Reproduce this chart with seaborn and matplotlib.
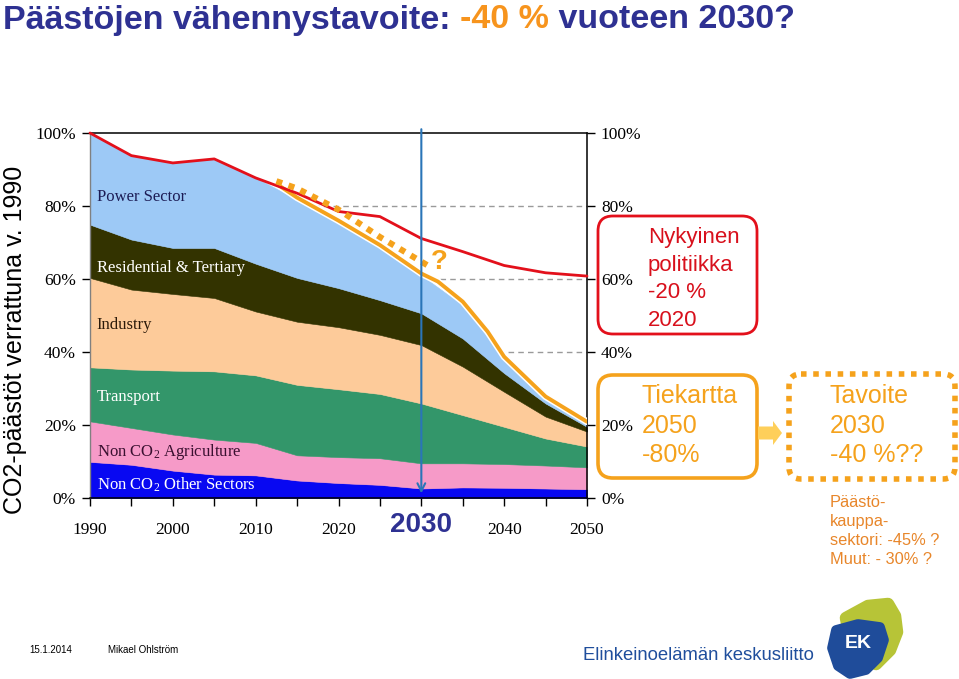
import numpy as np
import pandas as pd
import matplotlib
matplotlib.use("Agg")
import matplotlib.pyplot as plt
import seaborn as sns
from matplotlib.patches import FancyBboxPatch, FancyArrow, Polygon

# ---------------- data ----------------
years = [1990, 1995, 2000, 2005, 2010, 2015, 2020, 2025, 2030, 2035, 2040, 2045, 2050]
non_co2_other = [9.9, 9.1, 7.5, 6.4, 6.2, 4.8, 4.1, 3.6, 2.6, 2.9, 2.8, 2.6, 2.4]
non_co2_agriculture = [11.1, 10.1, 9.9, 9.6, 8.9, 6.9, 7.1, 7.3, 6.9, 6.6, 6.5, 6.3, 6.0]
transport = [14.8, 16.0, 17.5, 18.7, 18.5, 19.3, 18.6, 17.6, 16.4, 13.2, 10.2, 7.4, 5.7]
industry = [24.5, 21.9, 21.0, 20.1, 17.5, 17.3, 17.0, 16.2, 16.0, 13.3, 9.6, 6.0, 4.1]
residential = [14.6, 13.7, 12.6, 13.7, 13.1, 12.0, 10.7, 9.5, 8.7, 7.7, 5.1, 3.6, 1.3]
power_sector = [25.1, 23.0, 23.3, 24.4, 23.5, 21.5, 18.0, 14.6, 10.4, 9.1, 4.0, 1.1, 0.5]

sector_names = ["Non CO$_2$ Other Sectors", "Non CO$_2$ Agriculture", "Transport",
                "Industry", "Residential & Tertiary", "Power Sector"]
sector_colors = ["#0808F2", "#F69AC8", "#33966A", "#FDCB9A", "#333300", "#9DC9F6"]
label_colors = ["white", "#3A1030", "white", "#2B1A0A", "white", "#1C1C55"]

policy_years = [1990, 1995, 2000, 2005, 2010, 2015, 2020, 2025, 2030, 2035, 2040, 2045, 2050]
policy_values = [100, 93.8, 91.8, 92.9, 87.7, 83.5, 78.5, 77.1, 71.1, 67.5, 63.7, 61.7, 60.8]

roadmap_years = [2012.7, 2015, 2020, 2025, 2030, 2032, 2035, 2038, 2040, 2045, 2050]
roadmap_values = [85.8, 82.3, 76.0, 69.3, 61.5, 59.3, 53.8, 45.6, 38.7, 27.8, 20.9]

target_years = [2012.5, 2015, 2020, 2025, 2031]
target_values = [86.8, 84.8, 79.0, 71.5, 63.4]

x_ticks = [1990, 2000, 2010, 2020, 2030, 2040, 2050]
x_tick_labels = ["1990", "2000", "2010", "2020", "", "2040", "2050"]
y_ticks = [0, 20, 40, 60, 80, 100]
y_tick_labels = ["0%", "20%", "40%", "60%", "80%", "100%"]

# ---------------- style ----------------
sns.set_theme(style="white")
plt.rcParams["font.family"] = ["Liberation Sans", "DejaVu Sans"]
plt.rcParams["mathtext.fontset"] = "custom"
plt.rcParams["mathtext.rm"] = "Liberation Serif"
plt.rcParams["mathtext.it"] = "Liberation Serif:italic"

W, H = 959, 679
fig = plt.figure(figsize=(W / 100, H / 100), dpi=100)
fig.patch.set_facecolor("white")

ax = fig.add_axes([90 / W, 1 - 498 / H, 497 / W, 365 / H])
ax.set_facecolor("white")

# dashed grid (behind areas)
for yv in y_ticks[1:-1]:
    ax.axhline(yv, color="#9A9A9A", lw=1.0, ls=(0, (4, 3)), zorder=1)

layers = [non_co2_other, non_co2_agriculture, transport, industry, residential, power_sector]
polys = ax.stackplot(years, layers, colors=sector_colors, zorder=2)
for p, c in zip(polys, sector_colors):
    p.set_edgecolor(c)
    p.set_linewidth(0.4)

orange = "#F5A21C"
red = "#E3101B"

sns.lineplot(x=policy_years, y=policy_values, color=red, lw=2.0, ax=ax,
             zorder=5, clip_on=False)
sns.lineplot(x=roadmap_years, y=roadmap_values, color="white", lw=5.0, ax=ax, zorder=3)
sns.lineplot(x=roadmap_years, y=roadmap_values, color=orange, lw=2.8, ax=ax, zorder=4)
sns.lineplot(x=target_years, y=target_values, color=orange, lw=4.4, ax=ax, zorder=6,
             linestyle=(0, (1, 1.1)), dash_capstyle="butt")
ax.text(target_years[-1] + 0.1, target_values[-1] + 1.3, "?", color=orange, fontsize=20,
        fontweight="bold", ha="left", va="center", zorder=7)

# vertical arrow at 2030
ax.annotate("", xy=(2030, 0.5), xytext=(2030, 101.8),
            arrowprops=dict(arrowstyle="->", color="#2A75B8", lw=1.5, mutation_scale=14),
            annotation_clip=False, zorder=8)

ax.set_xlim(1990, 2050)
ax.set_ylim(0, 100)
ax.set_xticks(x_ticks)
ax.set_xticklabels(x_tick_labels)
ax.set_xticks(list(range(1990, 2051, 5)), minor=True)
ax.set_yticks(y_ticks)
ax.set_yticklabels(y_tick_labels)
ax.tick_params(axis="both", which="both", direction="out", length=6, width=1,
               color="black", labelsize=12.5, labelcolor="black")
ax.tick_params(axis="x", which="both", bottom=True, pad=11)
ax.tick_params(axis="y", left=True, right=True, labelleft=True, labelright=True, pad=4)
for t in ax.xaxis.get_major_ticks():
    t.label1.set_fontfamily("Liberation Serif")
for t in ax.yaxis.get_major_ticks():
    t.label1.set_fontfamily("Liberation Serif")
    t.label2.set_fontfamily("Liberation Serif")
for side in ["top", "right", "bottom"]:
    ax.spines[side].set_visible(True)
    ax.spines[side].set_color("black")
    ax.spines[side].set_linewidth(1.1)
ax.spines["left"].set_color("#808080")
ax.spines["left"].set_linewidth(1.0)
ax.set_xlabel("")
ax.set_ylabel("")

# sector labels
label_y = [3.6, 12.6, 27.7, 47.4, 63.0, 82.5]
for name, col, yv in zip(sector_names, label_colors, label_y):
    ax.text(1990.8, yv, name, color=col, fontsize=12, family="Liberation Serif",
            ha="left", va="center", zorder=9)

# ---------------- overlay for annotations (pixel coordinates) ----------------
ov = fig.add_axes([0, 0, 1, 1], zorder=10)
ov.set_xlim(0, W)
ov.set_ylim(H, 0)
ov.axis("off")

navy = "#2E3192"
title_parts = [("Päästöjen vähennystavoite: ", navy), ("-40 %", "#F7941D"), (" vuoteen 2030?", navy)]
fig.canvas.draw()
xcur = 3
inv = ov.transData.inverted()
for txt, col in title_parts:
    t = ov.text(xcur, 20, txt, color=col, fontsize=24.5, fontweight="bold", ha="left",
                va="center")
    fig.canvas.draw()
    bb = t.get_window_extent()
    xcur = inv.transform((bb.x1, bb.y0))[0]

ov.text(15, 340, "CO2-päästöt verrattuna v. 1990", rotation=90, fontsize=18,
        color="black", ha="center", va="center")

ov.text(421, 525, "2030", fontsize=20, fontweight="bold", color=navy,
        ha="center", va="center")

# red box
ov.add_patch(FancyBboxPatch((598, 216), 159, 118, boxstyle="round,pad=0,rounding_size=15",
                            fc="none", ec=red, lw=2.0))
ov.text(648, 227, "Nykyinen\npolitiikka\n-20 %\n2020", color="#D8101C", fontsize=16,
        ha="left", va="top", linespacing=1.42)

# orange box
ov.add_patch(FancyBboxPatch((598, 375), 159, 103, boxstyle="round,pad=0,rounding_size=15",
                            fc="none", ec=orange, lw=2.6))
ov.text(642, 384, "Tiekartta\n2050\n-80%", color=orange, fontsize=18,
        ha="left", va="top", linespacing=1.30)

# arrow between boxes
ov.add_patch(FancyArrow(758, 433, 15, 0, width=13, head_width=24, head_length=9,
                        length_includes_head=False, fc="#FECF5A", ec="none"))

# dotted target box
ov.add_patch(FancyBboxPatch((789, 374), 166, 105, boxstyle="round,pad=0,rounding_size=12",
                            fc="none", ec=orange, lw=4.0, ls=(0, (1, 1.2)),
                            capstyle="butt"))
ov.text(830, 384, "Tavoite\n2030\n-40 %??", color=orange, fontsize=18,
        ha="left", va="top", linespacing=1.30)
ov.text(830, 495, "Päästö-\nkauppa-\nsektori: -45% ?\nMuut: - 30% ?", color="#E8862A",
        fontsize=11.8, ha="left", va="top", linespacing=1.33)

# footer
ov.text(29, 650, "15.1.2014", fontsize=7, color="black", ha="left", va="center",
        family=["Liberation Sans Narrow", "Liberation Sans"])
ov.text(108, 650, "Mikael Ohlström", fontsize=7, color="black", ha="left", va="center",
        family=["Liberation Sans Narrow", "Liberation Sans"])
ov.text(583, 655, "Elinkeinoelämän keskusliitto", fontsize=13.3, color="#1F4E9C",
        ha="left", va="center")

# EK logo
ov.add_patch(Polygon([(846, 618), (868, 606), (888, 604), (895, 616), (897, 632),
                      (890, 650), (876, 664), (852, 648)], closed=True, fc="#B7C437",
                     ec="#B7C437", lw=9, joinstyle="round"))
ov.add_patch(Polygon([(836, 630), (858, 624), (880, 627), (884, 640), (878, 658),
                      (866, 670), (850, 674), (838, 666), (832, 648)], closed=True,
                     fc="#1F4C9A", ec="#1F4C9A", lw=7, joinstyle="round"))
ov.text(858, 643, "EK", fontsize=14, fontweight="bold", color="white",
        ha="center", va="center")

fig.savefig("out.png", dpi=100, facecolor="white")
